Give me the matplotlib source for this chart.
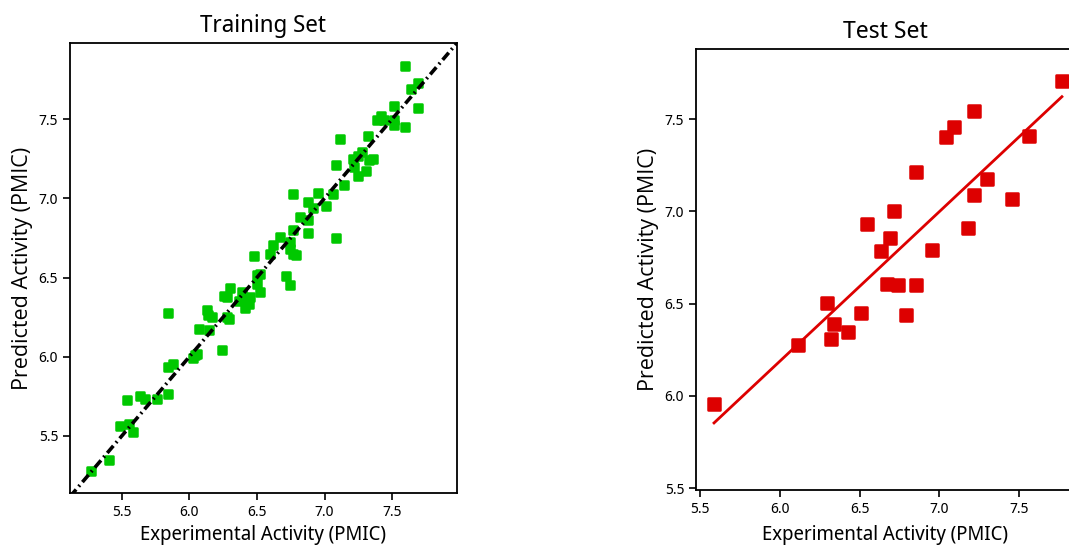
import numpy as np
import matplotlib
matplotlib.use('Agg')
import matplotlib.pyplot as plt
from matplotlib.markers import MarkerStyle

# horizontal texts look narrow in the source, so use a slimmer face for them
plt.rcParams['font.family'] = 'Noto Sans Display'

# training set (experimental, predicted)
train_x = [7.598, 7.636, 7.69, 7.69, 7.512, 7.389, 7.438, 7.512, 7.512, 7.598,
           7.117, 7.319, 7.42, 7.21, 7.25, 7.28, 7.33, 7.36, 7.31, 7.25,
           7.22, 7.087, 7.142, 7.063, 6.949, 6.767, 6.875, 6.915, 7.013, 6.875,
           6.816, 6.875, 7.087, 6.767, 6.673, 6.618, 6.747, 6.747, 6.767, 6.79,
           6.593, 6.475, 6.717, 6.741, 6.519, 6.302, 6.5, 6.5, 6.524, 6.253,
           6.278, 6.39, 6.42, 6.44, 6.41, 6.37, 6.45, 6.13, 6.14, 6.17,
           5.845, 6.278, 6.29, 6.075, 6.142, 6.245, 6.03, 6.043, 6.056, 5.845,
           5.878, 5.845, 5.541, 5.636, 5.673, 5.764, 5.487, 5.556, 5.581, 5.408,
           5.273]
train_y = [7.834, 7.687, 7.725, 7.567, 7.581, 7.493, 7.493, 7.493, 7.461, 7.451,
           7.373, 7.392, 7.52, 7.25, 7.27, 7.29, 7.24, 7.25, 7.17, 7.14,
           7.20, 7.209, 7.083, 7.030, 7.034, 7.026, 6.977, 6.936, 6.952, 6.862,
           6.879, 6.778, 6.750, 6.799, 6.756, 6.704, 6.725, 6.683, 6.651, 6.641,
           6.651, 6.634, 6.508, 6.451, 6.525, 6.431, 6.515, 6.462, 6.409, 6.382,
           6.378, 6.41, 6.36, 6.33, 6.31, 6.35, 6.38, 6.294, 6.262, 6.251,
           6.273, 6.251, 6.235, 6.178, 6.167, 6.041, 5.989, 6.009, 6.02, 5.936,
           5.951, 5.763, 5.725, 5.751, 5.736, 5.736, 5.563, 5.574, 5.525, 5.351,
           5.279]

# test set (experimental, predicted)
test_x = [7.768, 7.218, 7.092, 7.040, 7.563, 6.852, 7.297, 7.218, 7.454, 6.718,
          6.547, 6.693, 7.178, 6.633, 6.955, 6.674, 6.741, 6.852, 6.792, 6.298,
          6.507, 6.340, 6.321, 6.430, 6.116, 5.588]
test_y = [7.708, 7.545, 7.456, 7.402, 7.409, 7.216, 7.176, 7.089, 7.066, 7.004,
          6.933, 6.854, 6.908, 6.783, 6.792, 6.609, 6.603, 6.603, 6.441, 6.501,
          6.447, 6.392, 6.306, 6.344, 6.275, 5.954]

ticks = [5.5, 6.0, 6.5, 7.0, 7.5]

fig = plt.figure(figsize=(10.69, 5.48), dpi=100)
W, H = 1069, 548
sq = MarkerStyle('s', joinstyle='round')

# left panel
ax1 = fig.add_axes([70 / W, (H - 493) / H, 387 / W, 450 / H])
lim = (5.117, 7.98)
ax1.plot(lim, lim, color='black', linestyle=(0, (2.6, 1.1, 0.5, 1.1)),
         linewidth=2.6, zorder=3)
ax1.scatter(train_x, train_y, marker=sq, s=34, color='#00c800',
            edgecolors='#00c800', linewidths=1.8, zorder=2)
ax1.set_xlim(lim)
ax1.set_ylim(5.14, 7.98)
ax1.set_xticks(ticks)
ax1.set_yticks(ticks)
ax1.set_title('Training Set', fontsize=17, pad=8)
ax1.set_xlabel('Experimental Activity (PMIC)', fontsize=14.2, labelpad=4)
ax1.set_ylabel('Predicted Activity (PMIC)', fontsize=15.5, family='Open Sans')

# right panel
ax2 = fig.add_axes([696 / W, (H - 490) / H, 379 / W, 441 / H])
ax2.scatter(test_x, test_y, marker=sq, s=70, color='#dd0000',
            edgecolors='#dd0000', linewidths=1.8, zorder=3)
slope, icpt = np.polyfit(test_x, test_y, 1)
xl = np.array([min(test_x), max(test_x)])
ax2.plot(xl, slope * xl + icpt, color='#dd0000', linewidth=2, zorder=2)
ax2.set_xlim(5.475, 7.85)
ax2.set_ylim(5.49, 7.88)
ax2.set_xticks(ticks)
ax2.set_yticks(ticks)
ax2.set_title('Test Set', fontsize=17.5, pad=8)
ax2.set_xlabel('Experimental Activity (PMIC)', fontsize=14.2, labelpad=6)
ax2.set_ylabel('Predicted Activity (PMIC)', fontsize=15.5, family='Open Sans')

for ax in (ax1, ax2):
    ax.tick_params(labelsize=10.5, length=5, width=1.2)
    for sp in ax.spines.values():
        sp.set_linewidth(1.3)

fig.savefig('out.png', dpi=100)
